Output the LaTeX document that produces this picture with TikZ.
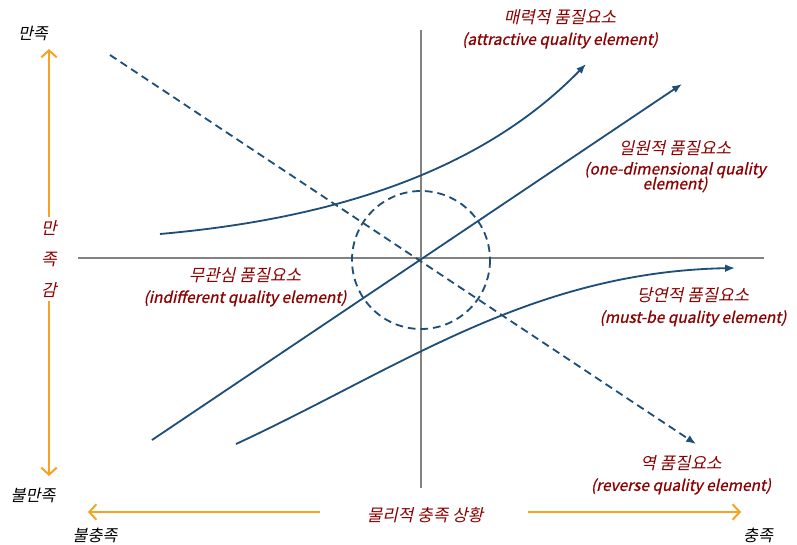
\documentclass[tikz,border=0pt]{standalone}
\usepackage{fontspec}
\setmainfont{Noto Sans CJK KR}[FakeSlant=0.22]
\newfontfamily\heavy{Noto Sans CJK KR}[FakeSlant=0.22, FakeBold=0.9]
\usepackage{tikz}
\usetikzlibrary{arrows.meta, positioning}
\definecolor{navy}    {RGB}{ 31, 78,121}
\definecolor{darkred} {RGB}{140,  0,  0}
\definecolor{orng}    {RGB}{247,162, 32}
\definecolor{axisgray}{RGB}{130,130,130}

\begin{document}
\begin{tikzpicture}[
  x=0.025cm, y=-0.025cm,
  axis/.style={axisgray, line width=1.6pt},
  curve/.style={navy, line width=1.3pt, -{Latex[length=7pt,width=5.5pt]}},
  dsh/.style={navy, line width=1.3pt, dash pattern=on 5.5pt off 3.5pt},
  oarr/.style={orng, line width=1.4pt, -{Straight Barb[length=5pt,width=11pt]}},
  kor/.style={font=\fontsize{12}{14}\selectfont, text=darkred, inner sep=1pt},
  eng/.style={font=\heavy\fontsize{11}{10}\selectfont, text=darkred, inner sep=1pt,
    align=center},
  pole/.style={font=\fontsize{11.5}{13}\selectfont, text=black, inner sep=1pt}
]
  \useasboundingbox (0,0) rectangle (797,545);
  % Axes
  \coordinate (xl) at (78,258);
  \coordinate (xr) at (764,258);
  \coordinate (yt) at (421,30);
  \coordinate (yb) at (421,488);
  \draw[axis] (xl)--(xr);
  \draw[axis] (yt)--(yb);
  \coordinate (O) at (421,260);
  \draw[dsh] (O) circle[radius=69];
  % Curves
  \coordinate (a0) at (160,234);
  \coordinate (a1) at (586,64);
  \coordinate (o0) at (152,440);
  \coordinate (o1) at (682,84);
  \coordinate (m0) at (236,444);
  \coordinate (m1) at (735,268);
  \coordinate (r0) at (110,55);
  \coordinate (r1) at (696,444);
  \draw[curve] (a0) .. controls (330,219) and (480,173) .. (a1);
  \draw[curve] (o0)--(o1);
  \draw[curve] (m0) .. controls (400,368) and (530,272) .. (m1);
  \draw[dsh, -{Latex[length=7pt,width=5.5pt]}] (r0)--(r1);
  % Labels
  \node[kor] (attK) at (560,17) {매력적 품질요소};
  \node[eng, below=3pt of attK] (attE) {(attractive quality element)};
  \node[kor] (oneK) at (675,148) {일원적 품질요소};
  \node[eng, below=2pt of oneK] (oneE) {(one-dimensional quality\\[-2pt]element)};
  \node[kor] (indK) at (245,275) {무관심 품질요소};
  \node[eng, below=3pt of indK] (indE) {(indifferent quality element)};
  \node[kor] (musK) at (693,295) {당연적 품질요소};
  \node[eng, below=3pt of musK] (musE) {(must-be quality element)};
  \node[kor] (revK) at (681,463) {역 품질요소};
  \node[eng, below=3pt of revK] (revE) {(reverse quality element)};
  % Satisfaction axis
  \node[kor, align=center, font=\fontsize{12}{22}\selectfont] (sat) at (49,259)
    {만\\족\\감};
  \coordinate (st) at (49,49);
  \coordinate (sb) at (49,476);
  \draw[oarr] (sat.north)++(0,-2)--(st);
  \draw[oarr] (sat.south)++(0,2)--(sb);
  \node[pole] (sHi) at (33,33) {만족};
  \node[pole] (sLo) at (33,495) {불만족};
  % Fulfilment axis
  \node[kor] (ful) at (425,515) {물리적 충족 상황};
  \coordinate (fl) at (88,512);
  \coordinate (fr) at (741,512);
  \draw[oarr] (320,512)--(fl);
  \draw[oarr] (528,512)--(fr);
  \node[pole] (fLo) at (95,535) {불충족};
  \node[pole] (fHi) at (758,535) {충족};
\end{tikzpicture}
\end{document}
